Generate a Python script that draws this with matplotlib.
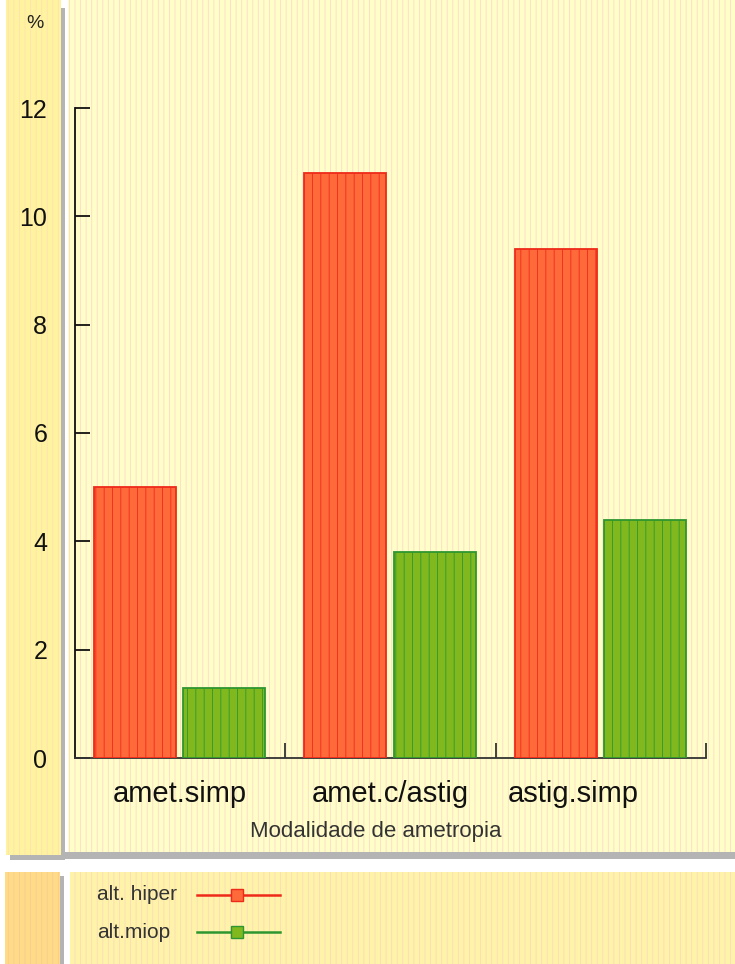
import matplotlib
matplotlib.use("Agg")
import matplotlib.pyplot as plt
from matplotlib.patches import Rectangle
from matplotlib.lines import Line2D
from matplotlib.transforms import ScaledTranslation
import numpy as np

plt.rcParams['font.family'] = ['Liberation Sans', 'DejaVu Sans']
plt.rcParams['hatch.linewidth'] = 0.6

categories = ["amet.simp", "amet.c/astig", "astig.simp"]
series_names = ["alt. hiper", "alt.miop"]
hiper = [5.0, 10.8, 9.4]
miop = [1.3, 3.8, 4.4]
y_ticks = [0, 2, 4, 6, 8, 10, 12]
x_title = "Modalidade de ametropia"
y_unit = "%"

W, H = 735, 964
fig = plt.figure(figsize=(W / 100, H / 100), dpi=100, facecolor="white")


def panel(x0, y0, x1, y1, color, hatch_color=None, z=0):
    """Rectangle in pixel coords measured from the top-left corner."""
    r = Rectangle((x0 / W, 1 - y1 / H), (x1 - x0) / W, (y1 - y0) / H,
                  transform=fig.transFigure, facecolor=color,
                  edgecolor=hatch_color if hatch_color else "none",
                  hatch="|||" if hatch_color else None,
                  linewidth=0, zorder=z)
    fig.patches.append(r)


# drop shadows
panel(10, 8, 65, 860, "#b4b4b4", z=0)
panel(52, 852, 735, 859, "#b4b4b4", z=0)
panel(9, 876, 64, 964, "#b4b4b4", z=0)
# upper panels
panel(6, 0, 61, 855, "#fff3a0", "#fbe3b0", z=1)
panel(68, 0, 735, 852, "#fffdc8", "#fbdcc8", z=1)
# legend panels
panel(5, 872, 60, 964, "#ffdb88", "#f7cc92", z=1)
panel(70, 872, 735, 964, "#fff3aa", "#f8dcb6", z=1)

ax = fig.add_axes([75 / W, 1 - 758 / H, (706 - 75) / W, (758 - 108) / H])
ax.set_facecolor("none")
ax.set_zorder(2)

x = np.arange(len(categories))
width = 0.39
ax.bar(x - 0.215, hiper, width, color="#ff6a3a", edgecolor="#ee2a1a",
       linewidth=1.3, hatch="||", zorder=3)
ax.bar(x + 0.21, miop, width, color="#80b81e", edgecolor="#2e9630",
       linewidth=1.3, hatch="||", zorder=3)

ax.set_xlim(-0.5, 2.5)
ax.set_ylim(0, 12)
for s in ["top", "right"]:
    ax.spines[s].set_visible(False)
ax.spines["left"].set_color("#111111")
ax.spines["left"].set_linewidth(1.3)
ax.spines["bottom"].set_color("#333333")
ax.spines["bottom"].set_linewidth(1.3)

ax.set_yticks(y_ticks)
ax.tick_params(axis="y", direction="in", length=11, width=1.3,
               labelsize=18, pad=20, colors="#111111")
ax.set_xticks(x)
ax.set_xticklabels(categories, fontsize=21)
ax.tick_params(axis="x", which="major", length=0, pad=16, labelcolor="#111111")
ax.set_xticks([0.5, 1.5, 2.5], minor=True)
ax.tick_params(axis="x", which="minor", direction="in", length=11,
               width=1.3, color="#333333")
# last category label sits a little left of its group centre
last = ax.get_xticklabels()[-1]
last.set_transform(last.get_transform()
                   + ScaledTranslation(-0.28, 0, fig.dpi_scale_trans))

fig.text(35 / W, 1 - 23 / H, y_unit, fontsize=14, ha="center", va="center",
         color="#222222")
fig.text(376 / W, 1 - 831 / H, x_title, fontsize=16, ha="center",
         va="center", color="#333333")

# legend: label on the left, line with square marker on the right
legend_styles = [
    dict(color="#ee2a1a", mfc="#ff6a3a", mec="#ee2a1a"),
    dict(color="#2e9630", mfc="#80b81e", mec="#2e9630"),
]
legend_rows = [895, 932]
for name, st, yrow in zip(series_names, legend_styles, legend_rows):
    yf = 1 - yrow / H
    fig.text(97 / W, yf, name, fontsize=15, ha="left", va="center",
             color="#333333")
    fig.add_artist(Line2D([197 / W, 280 / W], [yf, yf],
                          transform=fig.transFigure, color=st["color"],
                          lw=1.8, zorder=3))
    fig.add_artist(Line2D([237 / W], [yf], transform=fig.transFigure,
                          marker="s", markersize=9, markerfacecolor=st["mfc"],
                          markeredgecolor=st["mec"], lw=0, zorder=4))

fig.savefig("out.png", dpi=100, facecolor="white")
